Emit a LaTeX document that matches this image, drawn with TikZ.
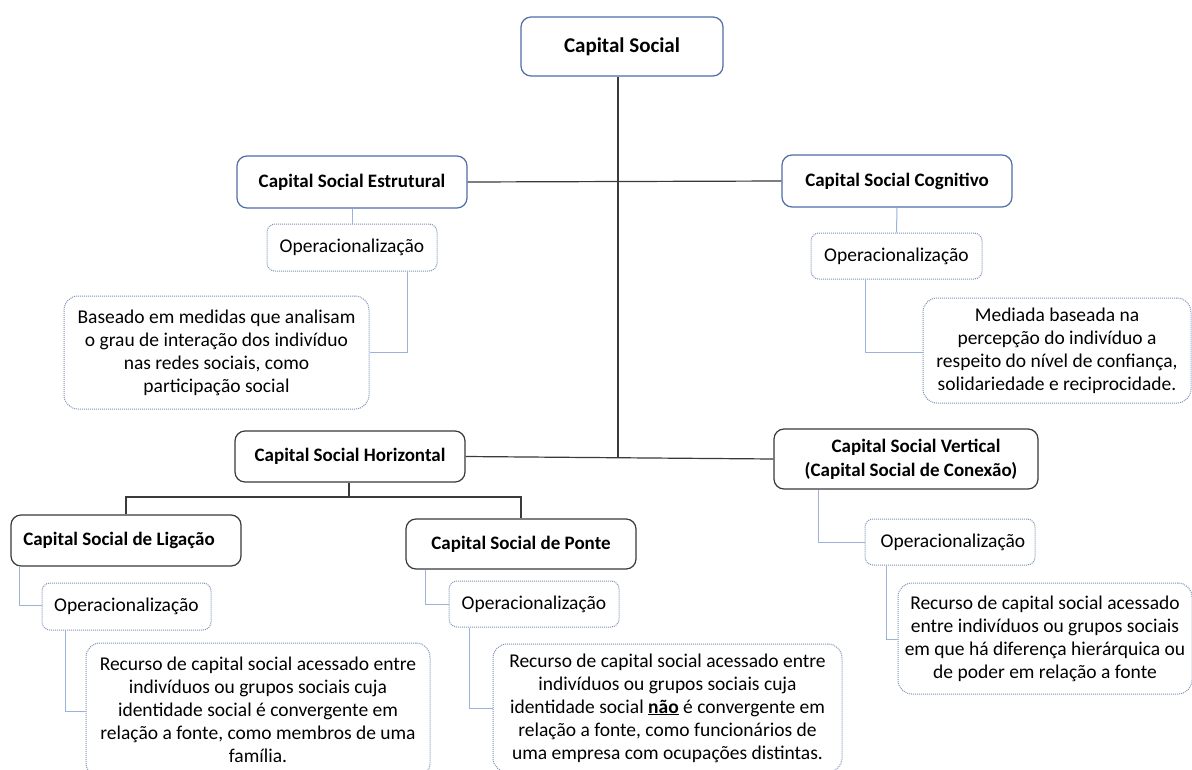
\documentclass[tikz,border=0pt]{standalone}
\usepackage{fontspec}
\setmainfont{Carlito}
\definecolor{boxblue}{HTML}{4F6DA8}
\definecolor{dotblue}{HTML}{7F93B8}
\definecolor{lineblue}{HTML}{9AB2DC}
\definecolor{darkline}{HTML}{3A3A3A}
\begin{document}
\begin{tikzpicture}[x=1pt,y=-1pt,
  titlebox/.style={draw=darkline, line width=1.2pt, rounded corners=10pt, fill=white, align=center, inner sep=2pt, font=\fontsize{19}{24}\selectfont\bfseries},
  bluebox/.style={titlebox, draw=boxblue},
  opbox/.style={draw=dotblue, densely dotted, line width=1pt, rounded corners=8pt, fill=white, align=center, inner sep=2pt, font=\fontsize{19.5}{23}\selectfont},
  descbox/.style={opbox, rounded corners=14pt},
  mainline/.style={draw=darkline, line width=1.2pt},
  subline/.style={draw=lineblue, line width=1pt}
]
\useasboundingbox (0,0) rectangle (1192,769);
\fill[white] (0,0) rectangle (1192,769);

% title boxes
\node[bluebox, minimum width=202pt, minimum height=59pt, font=\fontsize{21}{24}\selectfont\bfseries] (cs) at (622,46.5) {Capital Social};
\node[bluebox, minimum width=230pt, minimum height=52pt] (est) at (352,182) {Capital Social Estrutural};
\node[bluebox, minimum width=230pt, minimum height=52pt] (cog) at (897,181) {Capital Social Cognitivo};
\node[titlebox, minimum width=230pt, minimum height=51pt] (hor) at (350,456.5) {Capital Social Horizontal};
\node[titlebox, minimum width=264pt, minimum height=60pt] (ver) at (906,459) {\hspace*{20pt}Capital Social Vertical\\\hspace*{10pt}(Capital Social de Conexão)};
\node[titlebox, minimum width=230pt, minimum height=51pt] (lig) at (126,540.5) {\hspace*{-14pt}Capital Social de Ligação};
\node[titlebox, minimum width=230pt, minimum height=50pt] (pon) at (521,544) {Capital Social de Ponte};

% operacionalização boxes
\node[opbox, minimum width=170pt, minimum height=47pt] (opE) at (352,247.5) {Operacionalização};
\node[opbox, minimum width=171pt, minimum height=46pt] (opC) at (896.5,256) {Operacionalização};
\node[opbox, minimum width=169pt, minimum height=47pt] (opL) at (126.5,606.5) {Operacionalização};
\node[opbox, minimum width=170pt, minimum height=46pt] (opP) at (534,604) {Operacionalização};
\node[opbox, minimum width=170pt, minimum height=46pt] (opV) at (950,542) {\hspace*{6pt}Operacionalização};

% description boxes
\node[descbox, minimum width=305pt, minimum height=113pt] (dE) at (216.5,352.5) {Baseado em medidas que analisam\\o grau de interação dos indivíduo\\nas redes sociais, como\\participação social};
\node[descbox, minimum width=268pt, minimum height=105pt] (dC) at (1057,350.5) {Mediada baseada na\\percepção do indivíduo a\\respeito do nível de confiança,\\solidariedade e reciprocidade.};
\node[descbox, minimum width=344pt, minimum height=134pt] (dL) at (258,710) {Recurso de capital social acessado entre\\indivíduos ou grupos sociais cuja\\identidade social é convergente em\\relação a fonte, como membros de uma\\família.};
\node[descbox, minimum width=349pt, minimum height=128pt] (dP) at (667.5,708) {Recurso de capital social acessado entre\\indivíduos ou grupos sociais cuja\\identidade social \textbf{\underline{não}} é convergente em\\relação a fonte, como funcionários de\\uma empresa com ocupações distintas.};
\node[descbox, minimum width=294pt, minimum height=111pt] (dV) at (1045,638.5) {Recurso de capital social acessado\\entre indivíduos ou grupos sociais\\em que há diferença hierárquica ou\\de poder em relação a fonte};

% main connectors
\coordinate (j1) at (618,182);
\coordinate (j2) at (618,457);
\draw[mainline] (cs.south -| j1) -- (j2);
\draw[mainline] (est.east) -- (cog.west);
\draw[mainline] (hor.east) -- (ver.west);
\coordinate (hj) at (349,497);
\draw[mainline] (hor.south -| hj) -- (hj);
\draw[mainline] (lig.north) -- (lig.north |- hj) -- (pon.north |- hj) -- (pon.north);

% sub connectors
\draw[subline] (est.south) -- (opE.north);
\draw[subline] (opE.south -| 407,0) -- (407,352) -- (dE.east |- 0,352);
\draw[subline] (cog.south) -- (opC.north);
\draw[subline] (opC.south -| 865,0) -- (865,352) -- (dC.west |- 0,352);
\draw[subline] (lig.south -| 19,0) -- (19,605) -- (opL.west |- 0,605);
\draw[subline] (opL.south -| 65,0) -- (65,711) -- (dL.west |- 0,711);
\draw[subline] (pon.south -| 425,0) -- (425,604) -- (opP.west |- 0,604);
\draw[subline] (opP.south -| 469,0) -- (469,708) -- (dP.west |- 0,708);
\draw[subline] (ver.south -| 818,0) -- (818,542) -- (opV.west |- 0,542);
\draw[subline] (opV.south -| 886,0) -- (886,639) -- (dV.west |- 0,639);
\end{tikzpicture}
\end{document}
